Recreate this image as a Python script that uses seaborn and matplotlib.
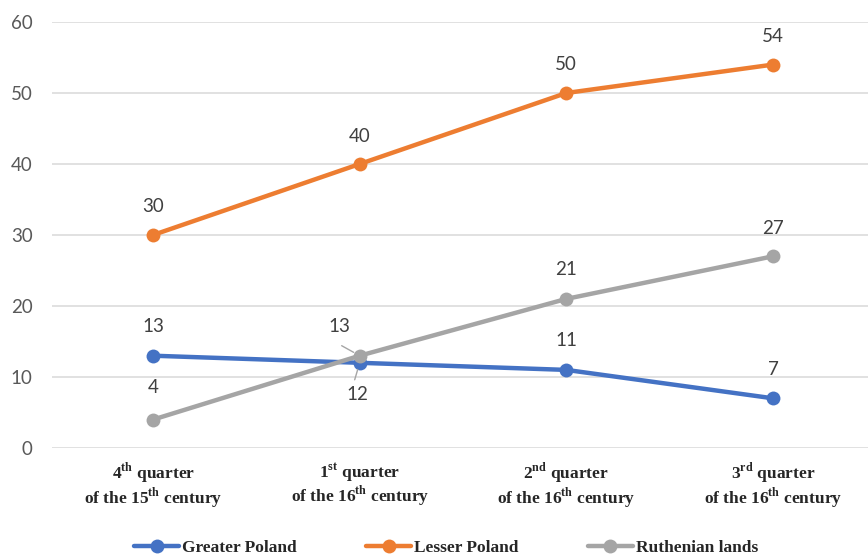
import numpy as np
import pandas as pd
import matplotlib.pyplot as plt
import seaborn as sns

periods = [
    "4$^{\\mathrm{th}}$ quarter\nof the 15$^{\\mathrm{th}}$ century",
    "1$^{\\mathrm{st}}$ quarter\nof the 16$^{\\mathrm{th}}$ century",
    "2$^{\\mathrm{nd}}$ quarter\nof the 16$^{\\mathrm{th}}$ century",
    "3$^{\\mathrm{rd}}$ quarter\nof the 16$^{\\mathrm{th}}$ century",
]
greater_poland = [13, 12, 11, 7]
lesser_poland = [30, 40, 50, 54]
ruthenian_lands = [4, 13, 21, 27]

series_names = ["Greater Poland", "Lesser Poland", "Ruthenian lands"]
colors = ["#4472C4", "#ED7D31", "#A5A5A5"]

sns.set_theme(style="white")
plt.rcParams["font.family"] = ["Lato", "DejaVu Sans"]
plt.rcParams["mathtext.fontset"] = "custom"
plt.rcParams["mathtext.rm"] = "Liberation Serif:bold"

rows = []
for name, vals in zip(series_names, [greater_poland, lesser_poland, ruthenian_lands]):
    for i, v in enumerate(vals):
        rows.append({"pos": i, "value": v, "series": name})
df = pd.DataFrame(rows)

fig = plt.figure(figsize=(8.68, 5.59), dpi=100)
ax = fig.add_axes([52 / 868, 1 - 448 / 559, 1 - 52 / 868, (448 - 22) / 559])

sns.lineplot(data=df, x="pos", y="value", hue="series", palette=colors,
             marker="o", markersize=10, markeredgewidth=0, linewidth=3.2,
             sort=False, ax=ax, legend=True, clip_on=False)

ax.set_xlim(-0.489, 3.46)
ax.set_ylim(0, 60)
ax.set_yticks(range(0, 61, 10))
ax.yaxis.grid(True, color="#D9D9D9", linewidth=1.1)
ax.set_axisbelow(True)
for s in ax.spines.values():
    s.set_visible(False)
ax.tick_params(axis="both", length=0)
ax.tick_params(axis="y", labelsize=13.5, labelcolor="#595959", pad=14)
ax.set_xticks(range(4))
ax.set_xticklabels(periods, fontfamily="Liberation Serif", fontweight="bold",
                   fontsize=12.5, color="#262626", linespacing=1.0)
ax.tick_params(axis="x", pad=9)
ax.set_xlabel("")
ax.set_ylabel("")

lab = dict(fontsize=13.5, color="#404040", ha="center", va="center")
# data labels (pixel offsets)
offsets = {
    "Greater Poland": [(0, 29), (-2, -32), (0, 29), (0, 29)],
    "Lesser Poland": [(0, 28), (0, 28), (0, 28), (0, 28)],
    "Ruthenian lands": [(0, 32), (-20, 29), (0, 29), (0, 28)],
}
for name, vals in zip(series_names, [greater_poland, lesser_poland, ruthenian_lands]):
    for i, v in enumerate(vals):
        dx, dy = offsets[name][i]
        ax.annotate(str(v), (i, v), xytext=(dx * 0.72, dy * 0.72),
                    textcoords="offset points", **lab)

# leader lines for the crowded pair
ax.annotate("", xy=(1, 13), xytext=(-18 * 0.72, 10 * 0.72), textcoords="offset points",
            xycoords="data",
            arrowprops=dict(arrowstyle="-", color="#A5A5A5", lw=1, shrinkA=0, shrinkB=5))
ax.annotate("", xy=(1, 12), xytext=(-5 * 0.72, -17 * 0.72), textcoords="offset points",
            arrowprops=dict(arrowstyle="-", color="#A5A5A5", lw=1, shrinkA=0, shrinkB=5))

handles, labels = ax.get_legend_handles_labels()
ax.get_legend().remove()
fig.legend(handles, labels, loc="center", bbox_to_anchor=(446 / 868, 1 - 548 / 559),
           ncol=3, frameon=False, handlelength=2.6, columnspacing=4.0,
           handletextpad=0.15,
           prop={"family": "Liberation Serif", "weight": "bold", "size": 12.5})

fig.savefig("out.png", dpi=100)
